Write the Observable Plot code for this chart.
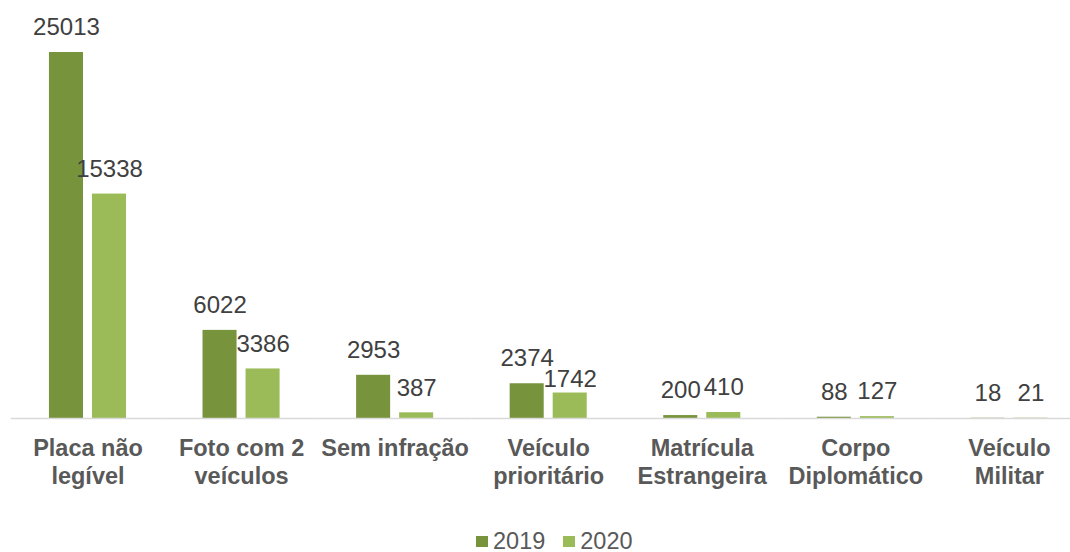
<!DOCTYPE html>
<html>
<head>
<meta charset="utf-8">
<script src="https://cdn.jsdelivr.net/npm/d3@7"></script>
<script src="https://cdn.jsdelivr.net/npm/@observablehq/plot@0.6"></script>
<style>
  html, body { margin: 0; padding: 0; background: #fff; }
  body { width: 1070px; height: 552px; overflow: hidden; position: relative; font-family: "Liberation Sans", Arial, sans-serif; }
  #chart svg { display: block; }
  #legend { position: absolute; left: 476px; top: 529px; height: 24px; display: flex; align-items: center; font-size: 23.5px; color: #595959; line-height: 24px; }
  #legend .item { display: flex; align-items: center; margin-right: 18px; }
  #legend .sw { width: 12px; height: 11px; margin-right: 5px; display: inline-block; }
</style>
</head>
<body>
<div id="chart"></div>
<div id="legend"></div>
<script>
const categories = ["Placa não\nlegível", "Foto com 2\nveículos", "Sem infração", "Veículo\nprioritário", "Matrícula\nEstrangeira", "Corpo\nDiplomático", "Veículo\nMilitar"];
const years = ["2019", "2020"];
const values2019 = [25013, 6022, 2953, 2374, 200, 88, 18];
const values2020 = [15338, 3386, 387, 1742, 410, 127, 21];
const colors = ["#77933C", "#9BBB59"];

const data = categories.flatMap((c, i) => [
  {cat: c, year: years[0], value: values2019[i]},
  {cat: c, year: years[1], value: values2020[i]}
]);

// the one label that the reference nudges down to avoid its neighbour
const nudged = d => d.cat === categories[3] && d.year === years[1];

const chart = Plot.plot({
  width: 1070,
  height: 528,
  marginLeft: 0,
  marginRight: 0,
  marginTop: 0,
  marginBottom: 110,
  style: {fontFamily: '"Liberation Sans", Arial, sans-serif', background: "#fff"},
  fx: {domain: categories, range: [10.7, 1085.7], paddingInner: 0, paddingOuter: 0, round: false, label: null, axis: null},
  x: {domain: years, paddingInner: 0.209, paddingOuter: 0.889, round: false, axis: null},
  y: {domain: [0, 25013], range: [418, 52], axis: null},
  color: {domain: years, range: colors},
  marks: [
    Plot.barY(data, {fx: "cat", x: "year", y: "value", fill: "year"}),
    Plot.ruleY([0], {stroke: "#d9d9d9", strokeWidth: 1.4}),
    Plot.text(data.filter(d => !nudged(d)), {fx: "cat", x: "year", y: "value", text: d => String(d.value), dy: -25, fontSize: 24, fill: "#404040"}),
    Plot.text(data.filter(nudged), {fx: "cat", x: "year", y: "value", text: d => String(d.value), dy: -14, fontSize: 24, fill: "#404040"}),
    Plot.axisFx({anchor: "bottom", tickSize: 0, tickPadding: 17, fontSize: 23.5, fontWeight: "bold", color: "#595959", lineHeight: 1.2, label: null})
  ]
});
document.getElementById("chart").appendChild(chart);

const legend = document.getElementById("legend");
years.forEach((y, i) => {
  const item = document.createElement("span");
  item.className = "item";
  const sw = document.createElement("span");
  sw.className = "sw";
  sw.style.background = colors[i];
  item.appendChild(sw);
  item.appendChild(document.createTextNode(y));
  legend.appendChild(item);
});
</script>
</body>
</html>
